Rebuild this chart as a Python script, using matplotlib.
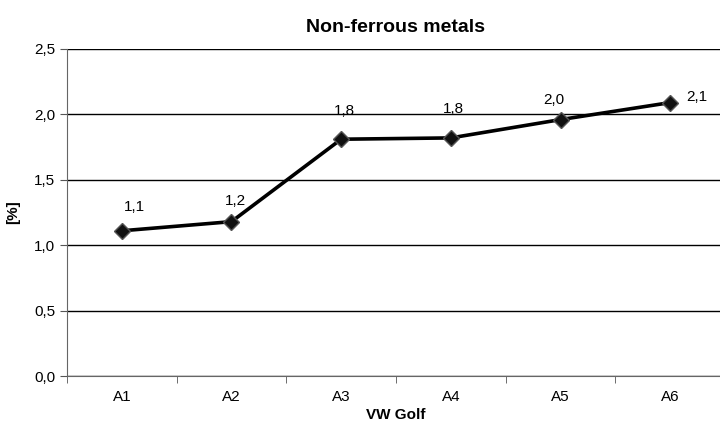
import matplotlib.pyplot as plt
from matplotlib.ticker import FuncFormatter

plt.rcParams["font.family"] = ["Liberation Sans Narrow", "Liberation Sans", "DejaVu Sans"]

categories = ["A1", "A2", "A3", "A4", "A5", "A6"]
values = [1.11, 1.18, 1.81, 1.82, 1.96, 2.09]
labels = ["1,1", "1,2", "1,8", "1,8", "2,0", "2,1"]
# label offsets in points, relative to the marker
label_offsets = [(9, 17), (3, 15), (2, 20), (2, 21), (-5, 14), (19, 4)]

fig = plt.figure(figsize=(7.2, 4.22), dpi=100)
ax = fig.add_axes([0.093, 0.109, 0.914, 0.775])

x = list(range(len(categories)))
ax.plot(x, values, "-", color="black", lw=2.6, zorder=3)
ax.plot(x, values, "D", color="#111111", markersize=8, markeredgecolor="#555555",
        markeredgewidth=1.0, zorder=4)
for xi, v, lab, off in zip(x, values, labels, label_offsets):
    ax.annotate(lab, (xi, v), textcoords="offset points", xytext=off,
                ha="center", va="center", fontsize=11)

ax.set_xlim(-0.5, len(categories) - 0.5)
ax.set_ylim(0, 2.5)
ax.set_yticks([0, 0.5, 1.0, 1.5, 2.0, 2.5])
ax.yaxis.set_major_formatter(FuncFormatter(lambda v, p: f"{v:.1f}".replace(".", ",")))
ax.set_xticks(x)
ax.set_xticklabels(categories, fontsize=11)
ax.set_xticks([i - 0.5 for i in range(len(categories) + 1)], minor=True)
ax.tick_params(axis="x", which="major", length=0, pad=10)
ax.tick_params(axis="x", which="minor", length=5, color="#555555")
ax.tick_params(axis="y", length=5, color="#555555", labelsize=11)
ax.grid(True, axis="y", color="black", lw=1.0)
ax.set_axisbelow(True)

for s in ["top", "right"]:
    ax.spines[s].set_visible(False)
ax.spines["left"].set_color("#666666")
ax.spines["bottom"].set_color("#666666")

ax.set_title("Non-ferrous metals", fontsize=14, fontweight="bold", pad=12)
ax.set_ylabel("[%]", fontsize=11, fontweight="bold", labelpad=10)
ax.set_xlabel("VW Golf", fontsize=11, fontweight="bold", labelpad=3)

fig.savefig("out.png", dpi=100)
